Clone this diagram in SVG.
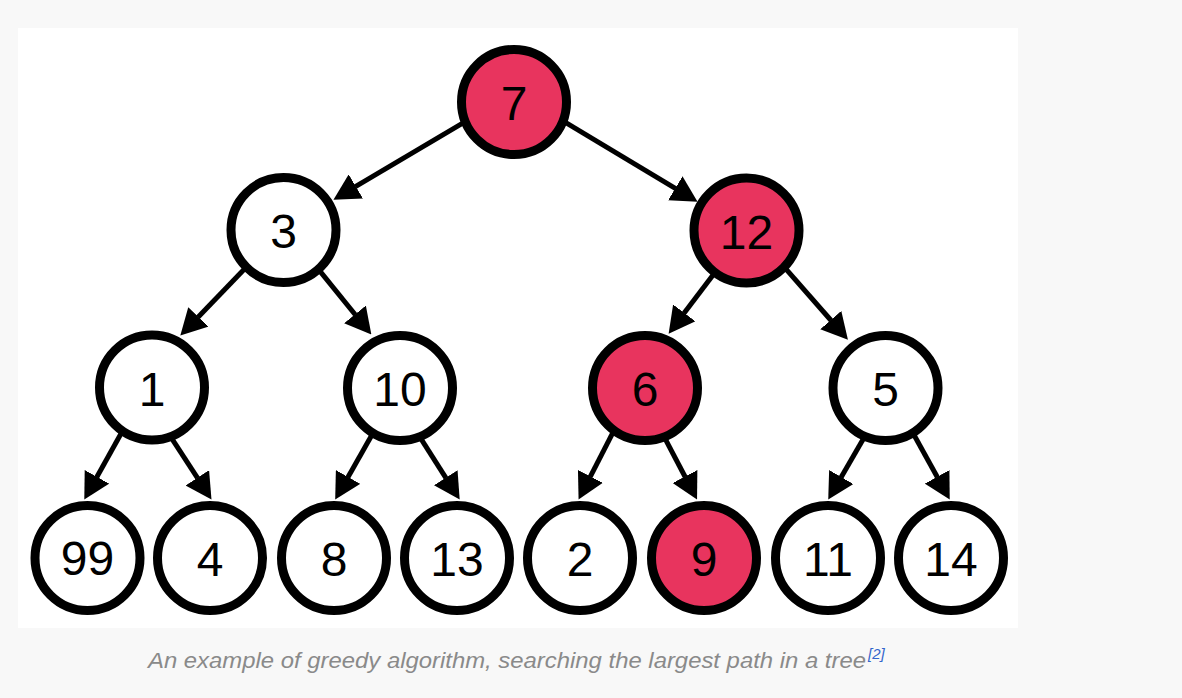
<svg xmlns="http://www.w3.org/2000/svg" width="1182" height="698" viewBox="0 0 1182 698">
<style>
.node circle{stroke:#000;stroke-width:9;fill:#fff}
.node.hot circle{fill:#e8345e}
.node text{font-family:"Liberation Sans",Arial,sans-serif;font-size:48px;fill:#000;text-anchor:middle}
#connectors line{stroke:#000;stroke-width:5;fill:none;marker-end:url(#arrow)}
.caption{font-family:"Liberation Sans",Arial,sans-serif;font-style:italic;font-size:22px;fill:#8a8a8a}
.ref{font-family:"Liberation Sans",Arial,sans-serif;font-style:italic;font-size:15px;fill:#3366cc}
</style>
<defs>
<marker id="arrow" viewBox="0 0 26 28" refX="0.5" refY="14" markerWidth="26" markerHeight="28" markerUnits="userSpaceOnUse" orient="auto">
<path d="M0,0 L26,14 L0,28 Z" fill="#000"/>
</marker>
</defs>
<rect x="0" y="0" width="1182" height="698" fill="#f8f8f8"/>
<rect x="18" y="28" width="1000" height="600" fill="#fff"/>
<g id="connectors">
<line x1="468.2" y1="119.9" x2="355.4" y2="186.7"/>
<line x1="562.9" y1="120.9" x2="675.7" y2="188.6"/>
<line x1="245.9" y1="267.4" x2="198.0" y2="317.2"/>
<line x1="317.9" y1="268.6" x2="355.3" y2="314.8"/>
<line x1="715.3" y1="271.9" x2="684.0" y2="313.3"/>
<line x1="784.3" y1="267.2" x2="831.1" y2="320.5"/>
<line x1="122.2" y1="431.5" x2="96.7" y2="477.3"/>
<line x1="171.7" y1="438.3" x2="197.6" y2="478.2"/>
<line x1="373" y1="433.1" x2="347.8" y2="477.4"/>
<line x1="418.5" y1="434.9" x2="446.0" y2="478.1"/>
<line x1="614.4" y1="429.7" x2="590.2" y2="476.9"/>
<line x1="663.9" y1="436.4" x2="685.2" y2="477.0"/>
<line x1="864.7" y1="436.5" x2="841" y2="477.5"/>
<line x1="912.1" y1="431.5" x2="937.4" y2="477.3"/>
</g>
<g id="n7" class="node hot"><circle cx="514" cy="102" r="52.5"/><text x="514" y="120">7</text></g>
<g id="n3" class="node"><circle cx="283.5" cy="230" r="52.5"/><text x="283.5" y="248">3</text></g>
<g id="n12" class="node hot"><circle cx="746.5" cy="230.5" r="52.5"/><text x="746.5" y="249">12</text></g>
<g id="n1" class="node"><circle cx="152" cy="387.5" r="52.5"/><text x="152" y="405.5">1</text></g>
<g id="n10" class="node"><circle cx="400" cy="388" r="52.5"/><text x="400" y="406">10</text></g>
<g id="n6" class="node hot"><circle cx="645" cy="388" r="52.5"/><text x="645" y="406">6</text></g>
<g id="n5" class="node"><circle cx="885.5" cy="388" r="52.5"/><text x="885.5" y="406">5</text></g>
<g id="n99" class="node"><circle cx="87.5" cy="558" r="52.5"/><text x="87.5" y="575">99</text></g>
<g id="n4" class="node"><circle cx="210" cy="558" r="52.5"/><text x="210" y="576">4</text></g>
<g id="n8" class="node"><circle cx="334" cy="558" r="52.5"/><text x="334" y="576">8</text></g>
<g id="n13" class="node"><circle cx="457" cy="558" r="52.5"/><text x="457" y="576">13</text></g>
<g id="n2" class="node"><circle cx="580" cy="558" r="52.5"/><text x="580" y="576">2</text></g>
<g id="n9" class="node hot"><circle cx="704" cy="558" r="52.5"/><text x="704" y="576">9</text></g>
<g id="n11" class="node"><circle cx="828" cy="558" r="52.5"/><text x="828" y="576">11</text></g>
<g id="n14" class="node"><circle cx="951" cy="558" r="52.5"/><text x="951" y="576">14</text></g>
<text class="caption" x="148" y="668" textLength="718" lengthAdjust="spacingAndGlyphs">An example of greedy algorithm, searching the largest path in a tree</text>
<text class="ref" x="868" y="659">[2]</text>
</svg>
